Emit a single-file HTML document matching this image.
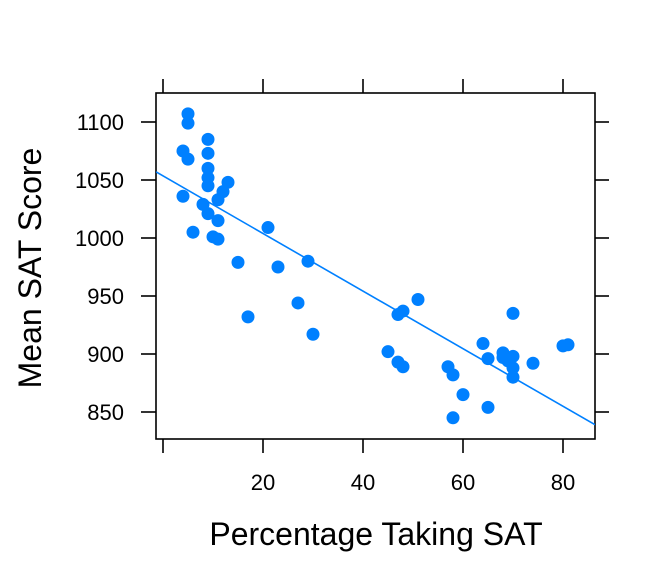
<!DOCTYPE html>
<html><head><meta charset="utf-8"><style>
body{margin:0;background:#fff}
text{font-family:"Liberation Sans",sans-serif;fill:#000}
</style></head><body>
<svg id="c" width="672" height="576">
</svg>
<script>
const xs=[4,5,5,5,4,6,9,9,9,9,9,8,9,10,11,11,11,12,13,15,17,21,23,27,29,30,45,47,48,47,48,51,57,58,58,60,64,65,65,68,68,69,70,70,70,70,74,80,81];
const ys=[1075,1107,1099,1068,1036,1005,1085,1073,1060,1052,1045,1029,1021,1001,999,1015,1033,1040,1048,979,932,1009,975,944,980,917,902,934,937,893,889,947,889,882,845,865,909,896,854,901,897,894,935,898,888,880,892,907,908];
const xTicks=[20,40,60,80];
const yTicks=[850,900,950,1000,1050,1100];
const L=156,R=595,T=93,B=439;
const X=v=>163+v*5, Y=v=>122+(1100-v)*1.16;
const xMin=(L-163)/5, xMax=(R-163)/5;
const svg=document.getElementById('c');const NS='http://www.w3.org/2000/svg';
function mk(t,a,p){const e=document.createElementNS(NS,t);for(const k in a)e.setAttribute(k,a[k]);(p||svg).appendChild(e);return e;}
const box=mk('rect',{x:L,y:T,width:R-L,height:B-T,fill:'none',stroke:'#000','stroke-width':1.6});


function xt(v){
 const a=mk('line',{x1:X(v),x2:X(v),y1:B,y2:B+14,stroke:'#000','stroke-width':1.6});
 
 
 const b=mk('line',{x1:X(v),x2:X(v),y1:T,y2:T-14,stroke:'#000','stroke-width':1.6});
 
 
}
xt(0);
xTicks.forEach(v=>{
 xt(v);
 const t=mk('text',{x:X(v),y:490,'text-anchor':'middle','font-size':22});t.textContent=v;
 
 
});
yTicks.forEach(v=>{
 const a=mk('line',{x1:L-15,x2:L,y1:Y(v),y2:Y(v),stroke:'#000','stroke-width':1.6});
 
 
 const b=mk('line',{x1:R,x2:R+14,y1:Y(v),y2:Y(v),stroke:'#000','stroke-width':1.6});
 
 
 const t=mk('text',{x:124,y:Y(v)+8,'text-anchor':'end','font-size':22});t.textContent=v;
 
 
});
const cp=mk('clipPath',{id:'cp'});mk('rect',{x:L,y:T,width:R-L,height:B-T},cp);
xs.forEach((x,i)=>{
 const c=mk('circle',{cx:X(x),cy:Y(ys[i]),r:6.5,fill:'#0080ff'});
 
 
});
const n=xs.length,mx=xs.reduce((a,b)=>a+b)/n,my=ys.reduce((a,b)=>a+b)/n;
let sxy=0,sxx=0;xs.forEach((x,i)=>{sxy+=(x-mx)*(ys[i]-my);sxx+=(x-mx)*(x-mx);});
const sl=sxy/sxx,ic=my-sl*mx;
const ln=mk('line',{x1:X(xMin),y1:Y(ic+sl*xMin),x2:X(xMax),y2:Y(ic+sl*xMax),stroke:'#0080ff','stroke-width':1.6,'clip-path':'url(#cp)'});


const xtt=mk('text',{x:376,y:545,'text-anchor':'middle','font-size':32});xtt.textContent='Percentage Taking SAT';


const yt=mk('text',{x:0,y:0,'text-anchor':'middle','font-size':32,transform:'translate(41,268) rotate(-90)'});yt.textContent='Mean SAT Score';


</script>
</body></html>
